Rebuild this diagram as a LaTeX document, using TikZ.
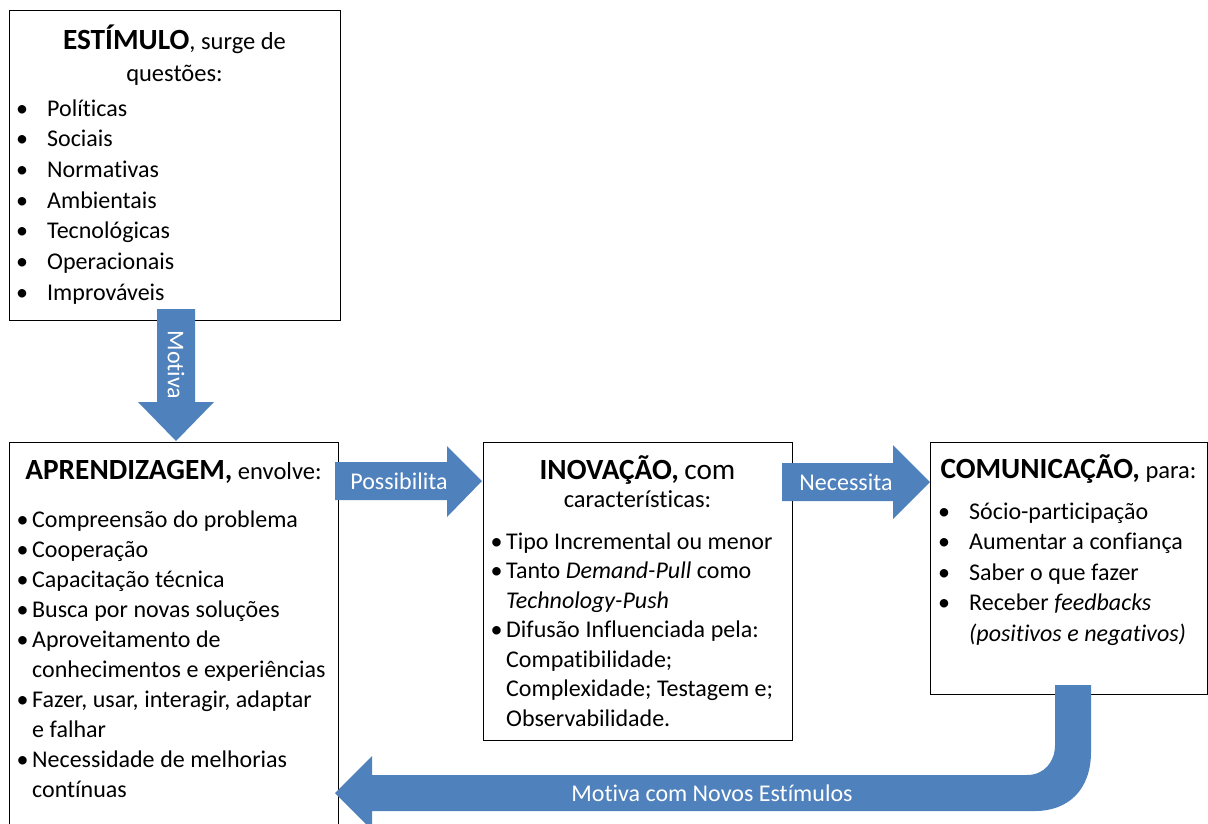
\documentclass[tikz,border=0pt]{standalone}
\usepackage{fontspec}
\setmainfont{Carlito}[Ligatures=NoCommon]
\definecolor{arrowblue}{RGB}{79,129,189}
% bullet hung in the left margin, centred #1 before the text
\newcommand\bulmark[1]{\llap{\makebox[0pt]{\textbullet}\hspace{#1}}}
\newcommand\firstbul[1]{\noindent\bulmark{#1}}
\newcommand\bul[1]{\par\noindent\bulmark{#1}}
\newcommand\bigb[1]{{\fontsize{29.3}{32}\selectfont\bfseries #1}}
% ragged paragraphs with fixed word spacing
\newcommand\listsetup{\raggedright\spaceskip=5.6pt\relax\xspaceskip=6.4pt\relax}
\begin{document}
\begin{tikzpicture}[x=1pt,y=-1pt,
  box/.style={draw=black, line width=1.2pt, fill=white, rectangle, inner sep=0pt, anchor=north west},
  ttl/.style={anchor=base, inner sep=0pt, font=\fontsize{24.5}{30}\selectfont},
  lst/.style={anchor=base west, inner sep=0pt, text width=#1},
  blk/.style={fill=arrowblue, draw=none},
  lbl/.style={text=white, inner sep=0pt, font=\fontsize{24}{28}\selectfont}]
\useasboundingbox (0,0) rectangle (1208,823);

% boxes
\node[box, minimum width=331pt, minimum height=310pt] (est) at (9,10) {};
\node[box, minimum width=329pt, minimum height=460pt] (apr) at (9,442) {};
\node[box, minimum width=309pt, minimum height=298pt] (inov) at (483,442) {};
\node[box, minimum width=277pt, minimum height=252pt] (com) at (930,442) {};

% titles
\node[ttl] (estA) at (174.5,49) {\bigb{ESTÍMULO}, surge de};
\node[ttl] (estB) at (174.5,81) {questões:};
\node[ttl] (aprA) at (173.5,479) {\bigb{APRENDIZAGEM,} envolve:};
\node[ttl] (inovA) at (637.5,479) {\bigb{INOVAÇÃO,} {\fontsize{29.3}{32}\selectfont com}};
\node[ttl] (inovB) at (637.5,507) {características:};
\node[ttl] (comA) at (1068.5,478) {\bigb{COMUNICAÇÃO,} para:};

% lists
\node[lst=285pt, font=\fontsize{24}{30.7}\selectfont] (estL) at (47,116) {\listsetup
\firstbul{25pt}Políticas
\bul{25pt}Sociais
\bul{25pt}Normativas
\bul{25pt}Ambientais
\bul{25pt}Tecnológicas
\bul{25pt}Operacionais
\bul{25pt}Improváveis};

\node[lst=320pt, font=\fontsize{24}{30.1}\selectfont] (aprL) at (32,527) {\listsetup
\firstbul{9.5pt}Compreensão do problema
\bul{9.5pt}Cooperação
\bul{9.5pt}Capacitação técnica
\bul{9.5pt}Busca por novas soluções
\bul{9.5pt}Aproveitamento de\newline conhecimentos e experiências
\bul{9.5pt}Fazer, usar, interagir, adaptar\newline e falhar
\bul{9.5pt}Necessidade de melhorias\newline contínuas};

\node[lst=300pt, font=\fontsize{24}{29.5}\selectfont] (inovL) at (506,549) {\listsetup
\firstbul{9.5pt}Tipo Incremental ou menor
\bul{9.5pt}Tanto \textit{Demand-Pull} como\newline \textit{Technology-Push}
\bul{9.5pt}Difusão Influenciada pela:\newline Compatibilidade;\newline Complexidade; Testagem e;\newline Observabilidade.};

\node[lst=260pt, font=\fontsize{24}{30.5}\selectfont] (comL) at (969,519) {\listsetup
\firstbul{25pt}Sócio-participação
\bul{25pt}Aumentar a confiança
\bul{25pt}Saber o que fazer
\bul{25pt}Receber \textit{feedbacks}\newline \textit{(positivos e negativos)}};

% block arrows
\fill[blk] (157,309) -- (195,309) -- (195,402) -- (214,402) -- (176,441)
  -- (138,402) -- (157,402) -- cycle;
\fill[blk] (335,462) -- (447,462) -- (447,446) -- (482,481) -- (447,517)
  -- (447,500) -- (335,500) -- cycle;
\fill[blk] (782,463) -- (893,463) -- (893,445) -- (930,482) -- (893,519)
  -- (893,501) -- (782,501) -- cycle;
\fill[blk] (1055,685) -- (1055,745) .. controls (1055,762) and (1044,775) .. (1027,775)
  -- (372,775) -- (372,756) -- (335,793) -- (372,830) -- (372,811)
  -- (1035,811) .. controls (1068,811) and (1091,790) .. (1091,752)
  -- (1091,685) -- cycle;

% arrow labels
\node[lbl, rotate=-90] (motL) at (176,365) {Motiva};
\node[lbl, anchor=base] (posL) at (399,489) {Possibilita};
\node[lbl, anchor=base] (necL) at (846,490) {Necessita};
\node[lbl, anchor=base] (novL) at (712,801) {Motiva com Novos Estímulos};
\end{tikzpicture}
\end{document}
